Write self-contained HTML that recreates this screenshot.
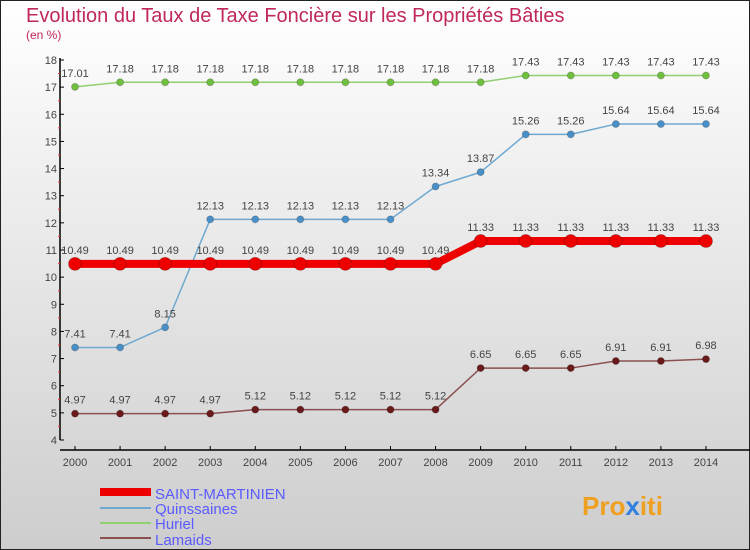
<!DOCTYPE html>
<html><head><meta charset="utf-8"><style>
body{margin:0}
#c{width:750px;height:550px;position:relative;overflow:hidden;font-family:"Liberation Sans",sans-serif}
</style></head><body>
<div id="c">
<svg id="s" width="750" height="550" xmlns="http://www.w3.org/2000/svg">
<defs><linearGradient id="bg" x1="0" y1="0" x2="0" y2="1"><stop offset="0" stop-color="#ffffff"/><stop offset="1" stop-color="#cdcdcd"/></linearGradient></defs>
<rect x="0.5" y="0.5" width="749" height="549" fill="url(#bg)" stroke="#222"/>
<text x="26" y="22" font-size="20" fill="#c0285a">Evolution du Taux de Taxe Foncière sur les Propriétés Bâties</text>
<text x="26" y="39" font-size="12" fill="#c0285a">(en %)</text>
<g id="axes"></g><g id="series"></g>
<g>
<line x1="100" y1="492" x2="151" y2="492" stroke="#e00" stroke-width="8"/>
<text x="155" y="499" font-size="15" fill="#5a5aff">SAINT-MARTINIEN</text>
<line x1="100" y1="508" x2="151" y2="508" stroke="#6fa8d0" stroke-width="2"/>
<text x="155" y="514" font-size="15" fill="#5a5aff">Quinssaines</text>
<line x1="100" y1="523" x2="151" y2="523" stroke="#90d070" stroke-width="2"/>
<text x="155" y="529" font-size="15" fill="#5a5aff">Huriel</text>
<line x1="100" y1="538" x2="151" y2="538" stroke="#8a5050" stroke-width="2"/>
<text x="155" y="545" font-size="15" fill="#5a5aff">Lamaids</text>
</g>
<text x="582" y="515" font-size="26" font-weight="bold" fill="#f0a020">Pro<tspan fill="#3080e0">x</tspan>iti</text>
</svg>
</div>
<script>
const years=[2000,2001,2002,2003,2004,2005,2006,2007,2008,2009,2010,2011,2012,2013,2014];
const yTicks=[4,5,6,7,8,9,10,11,12,13,14,15,16,17,18];
const saint=[10.49,10.49,10.49,10.49,10.49,10.49,10.49,10.49,10.49,11.33,11.33,11.33,11.33,11.33,11.33];
const quins=[7.41,7.41,8.15,12.13,12.13,12.13,12.13,12.13,13.34,13.87,15.26,15.26,15.64,15.64,15.64];
const huriel=[17.01,17.18,17.18,17.18,17.18,17.18,17.18,17.18,17.18,17.18,17.43,17.43,17.43,17.43,17.43];
const lamaids=[4.97,4.97,4.97,4.97,5.12,5.12,5.12,5.12,5.12,6.65,6.65,6.65,6.91,6.91,6.98];
const NS="http://www.w3.org/2000/svg";
function X(i){return 75+i*45.07;}
function Y(v){return 440-(v-4)*(380/14);}
function mk(t,a,p){const e=document.createElementNS(NS,t);for(const k in a)e.setAttribute(k,a[k]);p.appendChild(e);return e;}
const ax=document.getElementById('axes');
const yl=mk('line',{x1:60,y1:58,x2:60,y2:440,stroke:'#000','stroke-width':1.5},ax);


const xl=mk('line',{x1:60,y1:450,x2:750,y2:450,stroke:'#000','stroke-width':1.5},ax);


yTicks.forEach(v=>{
 mk('line',{x1:60,y1:Y(v),x2:64,y2:Y(v),stroke:'#000'},ax);
 if(v<18)mk('line',{x1:58,y1:Y(v+0.5),x2:60,y2:Y(v+0.5),stroke:'#f33'},ax);
 const t=mk('text',{x:57,y:Y(v)+4,'font-size':11,fill:'#444','text-anchor':'end'},ax);t.textContent=v;
 
 
});
years.forEach((y,i)=>{
 mk('line',{x1:X(i),y1:446,x2:X(i),y2:450,stroke:'#000'},ax);
 const t=mk('text',{x:X(i),y:466,'font-size':11,fill:'#444','text-anchor':'middle'},ax);t.textContent=y;
 
 
});
const sg=document.getElementById('series');
function series(vals,color,w,r,dot,name){
 const g=mk('g',{},sg);
 
 
 mk('polyline',{points:vals.map((v,i)=>X(i)+','+Y(v)).join(' '),fill:'none',stroke:color,'stroke-width':w,'stroke-linejoin':'round'},g);
 vals.forEach((v,i)=>{
  const c=mk('circle',{cx:X(i),cy:Y(v),r:r,fill:dot,stroke:'#0003'},g);
  
  
  const t=mk('text',{x:X(i),y:Y(v)-10,'font-size':11,fill:'#444','text-anchor':'middle'},g);t.textContent=String(v);
  
  
 });
}
series(huriel,'#90d070',1.5,3.5,'#70c040','huriel-series');
series(quins,'#6fa8d0',1.5,3.5,'#4a90c8','quinssaines-series');
series(lamaids,'#8a5050',1.5,3.5,'#6a1a1a','lamaids-series');
series(saint,'#ee0000',8,6.5,'#ee0000','saint-martinien-series');
</script>
</body></html>
